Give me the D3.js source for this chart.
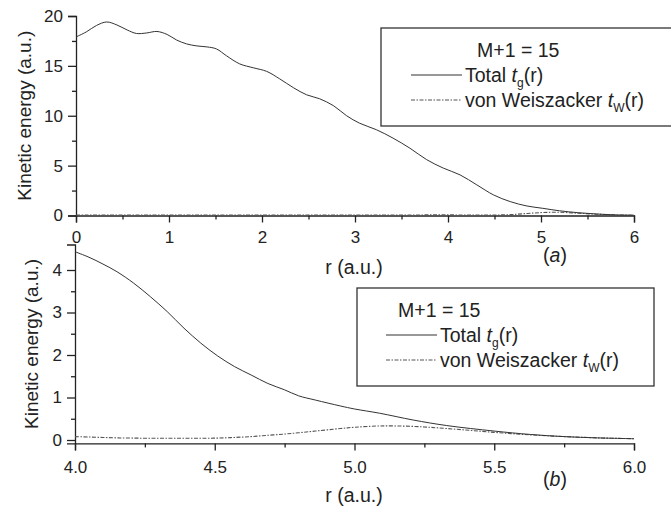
<!DOCTYPE html>
<html>
<head>
<meta charset="utf-8">
<script src="https://cdn.jsdelivr.net/npm/d3@7"></script>
<style>
  body { margin: 0; background: #fff; }
  svg { display: block; font-family: "Liberation Sans", Arial, sans-serif; }
  .axis path, .axis line { stroke: #222; stroke-width: 1.3; }
  .axis text { fill: #222; font-size: 17px; font-family: "Liberation Sans", Arial, sans-serif; }
</style>
</head>
<body>
<div id="chart"></div>
<script>
// Panel (a): full range
const topR = [0, 0.11, 0.22, 0.33, 0.44, 0.55, 0.65, 0.76, 0.87, 0.98, 1.08, 1.19, 1.30, 1.41, 1.51, 1.62, 1.76, 1.91, 2.05, 2.19, 2.34, 2.48, 2.62, 2.77, 2.91, 3.05, 3.23, 3.41, 3.59, 3.77, 3.95, 4.13, 4.31, 4.49, 4.67, 4.85, 5.02, 5.2, 5.4, 5.6, 5.8, 6.0];
const topTotal = [17.9, 18.4, 19.05, 19.4, 19.1, 18.6, 18.25, 18.3, 18.45, 18.15, 17.6, 17.2, 17.0, 16.9, 16.7, 16.0, 15.2, 14.8, 14.45, 13.7, 12.8, 12.1, 11.7, 11.0, 10.0, 9.25, 8.6, 7.75, 6.75, 5.6, 4.75, 4.07, 3.07, 2.06, 1.39, 0.95, 0.72, 0.47, 0.28, 0.15, 0.06, 0.03];
const topVW = [0.05, 0.05, 0.05, 0.05, 0.05, 0.05, 0.05, 0.05, 0.05, 0.05, 0.05, 0.05, 0.05, 0.05, 0.05, 0.05, 0.05, 0.05, 0.05, 0.05, 0.05, 0.05, 0.05, 0.05, 0.05, 0.05, 0.05, 0.05, 0.05, 0.06, 0.07, 0.05, 0.04, 0.045, 0.09, 0.2, 0.3, 0.32, 0.23, 0.13, 0.06, 0.03];

// Panel (b): zoom on 4..6
const botR = [4.0, 4.05, 4.1, 4.15, 4.21, 4.27, 4.33, 4.39, 4.45, 4.51, 4.57, 4.63, 4.69, 4.75, 4.8, 4.86, 4.95, 5.0, 5.09, 5.21, 5.33, 5.5, 5.63, 5.75, 5.87, 6.0];
const botTotal = [4.43, 4.3, 4.14, 3.96, 3.69, 3.37, 3.02, 2.63, 2.28, 1.98, 1.73, 1.53, 1.33, 1.18, 1.04, 0.94, 0.80, 0.73, 0.63, 0.47, 0.34, 0.21, 0.13, 0.08, 0.05, 0.03];
const botVW = [0.08, 0.07, 0.06, 0.05, 0.045, 0.04, 0.04, 0.04, 0.04, 0.045, 0.06, 0.08, 0.11, 0.14, 0.17, 0.21, 0.27, 0.3, 0.33, 0.32, 0.27, 0.18, 0.12, 0.08, 0.05, 0.03];

// tick values
const topXMajor = [0, 1, 2, 3, 4, 5, 6];
const topXMinor = [0.5, 1.5, 2.5, 3.5, 4.5, 5.5];
const topYMajor = [0, 5, 10, 15, 20];
const topYMinor = [2.5, 7.5, 12.5, 17.5];
const botXMajor = [4.0, 4.5, 5.0, 5.5, 6.0];
const botXMinor = [4.25, 4.75, 5.25, 5.75];
const botYMajor = [0, 1, 2, 3, 4];
const botYMinor = [0.5, 1.5, 2.5, 3.5];

const width = 671, height = 508;

const svg = d3.select("#chart").append("svg")
    .attr("width", width)
    .attr("height", height);

svg.append("rect").attr("width", width).attr("height", height).attr("fill", "#fff");

function drawPanel(p) {
    const x = d3.scaleLinear().domain(p.xDomain).range([p.left, p.right]);
    const y = d3.scaleLinear().domain(p.yDomain).range([p.bottom, p.top]);
    const g = svg.append("g");

    // x axis (major + minor)
    g.append("g").attr("class", "axis")
        .attr("transform", `translate(0,${p.bottom})`)
        .call(d3.axisBottom(x).tickValues(p.xMajor).tickSizeOuter(0).tickSize(7)
            .tickPadding(p.xPad).tickFormat(p.xFmt));
    g.append("g").attr("class", "axis")
        .attr("transform", `translate(0,${p.bottom})`)
        .call(d3.axisBottom(x).tickValues(p.xMinor).tickSizeOuter(0).tickSize(4).tickFormat(""))
        .select(".domain").remove();

    // y axis
    g.append("g").attr("class", "axis")
        .attr("transform", `translate(${p.left},0)`)
        .call(d3.axisLeft(y).tickValues(p.yMajor).tickSizeOuter(0).tickSize(8).tickPadding(5)
            .tickFormat(d3.format("d")));
    g.append("g").attr("class", "axis")
        .attr("transform", `translate(${p.left},0)`)
        .call(d3.axisLeft(y).tickValues(p.yMinor).tickSizeOuter(0).tickSize(4).tickFormat(""))
        .select(".domain").remove();

    const line = d3.line()
        .x(d => x(d[0]))
        .y(d => y(d[1]))
        .curve(d3.curveCatmullRom);

    g.append("path")
        .datum(p.r.map((r, i) => [r, p.vw[i]]))
        .attr("d", line)
        .attr("fill", "none")
        .attr("stroke", "#555")
        .attr("stroke-width", 1.1)
        .attr("stroke-dasharray", "4,1.5,1.5,1.5");

    g.append("path")
        .datum(p.r.map((r, i) => [r, p.total[i]]))
        .attr("d", line)
        .attr("fill", "none")
        .attr("stroke", "#333")
        .attr("stroke-width", 1);

    // axis titles
    g.append("text")
        .attr("transform", `translate(${p.yLabelX},${(p.top + p.bottom) / 2}) rotate(-90)`)
        .attr("text-anchor", "middle")
        .attr("font-size", 19)
        .attr("fill", "#222")
        .text("Kinetic energy (a.u.)");

    g.append("text")
        .attr("x", 354).attr("y", p.xLabelY)
        .attr("text-anchor", "middle")
        .attr("font-size", 19.5)
        .attr("fill", "#222")
        .text("r (a.u.)");

    const tag = g.append("text")
        .attr("x", 555).attr("y", p.tagY)
        .attr("text-anchor", "middle")
        .attr("font-size", 19.5)
        .attr("fill", "#222");
    tag.append("tspan").text("(");
    tag.append("tspan").attr("font-style", "italic").text(p.tag);
    tag.append("tspan").text(")");

    // legend
    const L = p.legend;
    g.append("rect")
        .attr("x", L.x).attr("y", L.y)
        .attr("width", L.w).attr("height", L.h)
        .attr("fill", "#fff")
        .attr("stroke", "#333")
        .attr("stroke-width", 1.3);

    g.append("text")
        .attr("x", L.titleX).attr("y", L.y + 29)
        .attr("font-size", 19.5).attr("fill", "#222")
        .text("M+1 = 15");

    const rows = [
        { y: L.y + 47, dash: null, name: "Total ", sub: "g" },
        { y: L.y + 72, dash: "4,1.5,1.5,1.5", name: "von Weiszacker ", sub: "W" }
    ];
    rows.forEach(row => {
        g.append("line")
            .attr("x1", L.lineX).attr("x2", L.lineX + 51)
            .attr("y1", row.y).attr("y2", row.y)
            .attr("stroke", row.dash ? "#555" : "#333")
            .attr("stroke-width", 1.1)
            .attr("stroke-dasharray", row.dash);
        const t = g.append("text")
            .attr("x", L.lineX + 54).attr("y", row.y + 7)
            .attr("font-size", 19.5).attr("fill", "#222");
        t.append("tspan").text(row.name);
        t.append("tspan").attr("font-style", "italic").text("t");
        t.append("tspan").attr("font-size", 12).attr("dy", 5).text(row.sub);
        t.append("tspan").attr("dy", -5).text("(r)");
    });
}

drawPanel({
    xDomain: [0, 6], yDomain: [0, 20],
    left: 76, right: 634, top: 16, bottom: 215.5,
    xMajor: topXMajor, xMinor: topXMinor, yMajor: topYMajor, yMinor: topYMinor,
    xFmt: d3.format("d"), xPad: 8,
    r: topR, total: topTotal, vw: topVW,
    yLabelX: 31, xLabelY: 274, tag: "a", tagY: 262,
    legend: { x: 381, y: 28, w: 310, h: 98, titleX: 477, lineX: 411 }
});

drawPanel({
    xDomain: [4, 6], yDomain: [-0.08, 4.6],
    left: 75, right: 634, top: 244.5, bottom: 443.4,
    xMajor: botXMajor, xMinor: botXMinor, yMajor: botYMajor, yMinor: botYMinor,
    xFmt: d3.format(".1f"), xPad: 11,
    r: botR, total: botTotal, vw: botVW,
    yLabelX: 38, xLabelY: 502, tag: "b", tagY: 486,
    legend: { x: 357, y: 288, w: 297, h: 98, titleX: 398, lineX: 386 }
});
</script>
</body>
</html>
